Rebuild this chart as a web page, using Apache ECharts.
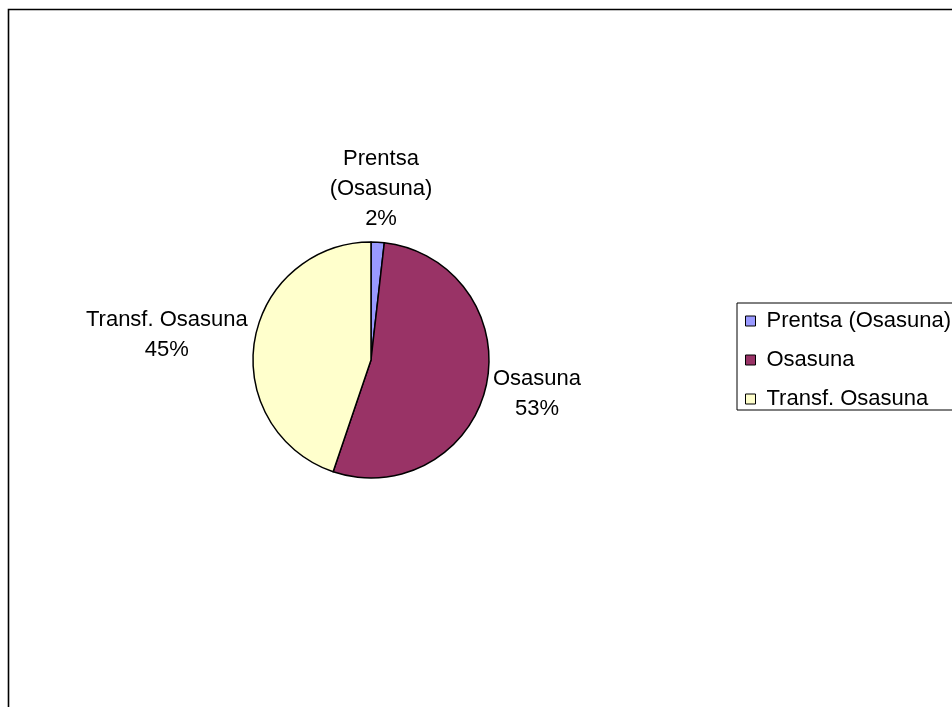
<!DOCTYPE html>
<html><head><meta charset="utf-8">
<script src="https://cdn.jsdelivr.net/npm/echarts@6/dist/echarts.min.js"></script>
<style>html,body{margin:0;padding:0;background:#fff}#c{width:952px;height:707px}</style>
</head><body><div id="c"></div>
<script>
const categories = ['Prentsa (Osasuna)', 'Osasuna', 'Transf. Osasuna'];
const labelNames = ['Prentsa\n(Osasuna)', 'Osasuna', 'Transf. Osasuna'];
const values = [1.8, 53.4, 44.8];
const percentLabels = ['2%', '53%', '45%'];
const colors = ['#9999FF', '#993366', '#FFFFCC'];

const pieCenter = [371, 360];
const FONT = 'Liberation Sans, Arial, sans-serif';

const chart = echarts.init(document.getElementById('c'));
chart.setOption({
  animation: false,
  graphic: [{
    type: 'rect', shape: {x: 8.5, y: 9.5, width: 1100, height: 1100},
    style: {fill: 'none', stroke: '#000', lineWidth: 1.6}, silent: true, z: -1
  }],
  legend: {
    orient: 'vertical', left: 737, top: 303,
    data: categories,
    icon: 'rect', itemWidth: 10, itemHeight: 10, itemGap: 17,
    borderColor: '#000', borderWidth: 1,
    padding: [7, 40, 0, 8],
    textStyle: {fontFamily: FONT, fontSize: 22, lineHeight: 22, color: '#000', padding: [0, 0, 0, 6]},
    itemStyle: {borderColor: '#000', borderWidth: 1}
  },
  series: [{
    type: 'pie',
    center: pieCenter, radius: 118,
    startAngle: 90, clockwise: true,
    label: {
      show: true, position: 'outside', distanceToLabelLine: 0,
      fontFamily: FONT, fontSize: 22, color: '#000',
      lineHeight: 30,
      formatter: p => labelNames[p.dataIndex] + '\n' + percentLabels[p.dataIndex]
    },
    labelLine: {show: false, length: 8, length2: 0},
    labelLayout: p => {
      const pts = p.labelLinePoints;
      const a = pts ? pts[pts.length - 1] : [p.labelRect.x, p.labelRect.y];
      const dx = a[0] - pieCenter[0], dy = a[1] - pieCenter[1];
      const len = Math.hypot(dx, dy) || 1;
      const ux = dx / len, uy = dy / len;
      const w = p.labelRect.width, h = p.labelRect.height;
      return {
        x: a[0] + ux * w / 2,
        y: a[1] + uy * h / 2,
        align: 'center', verticalAlign: 'middle'
      };
    },
    itemStyle: {borderColor: '#000', borderWidth: 1.5},
    emphasis: {disabled: true},
    data: categories.map((c, i) => ({name: c, value: values[i], itemStyle: {color: colors[i]}}))
  }]
});
</script></body></html>
